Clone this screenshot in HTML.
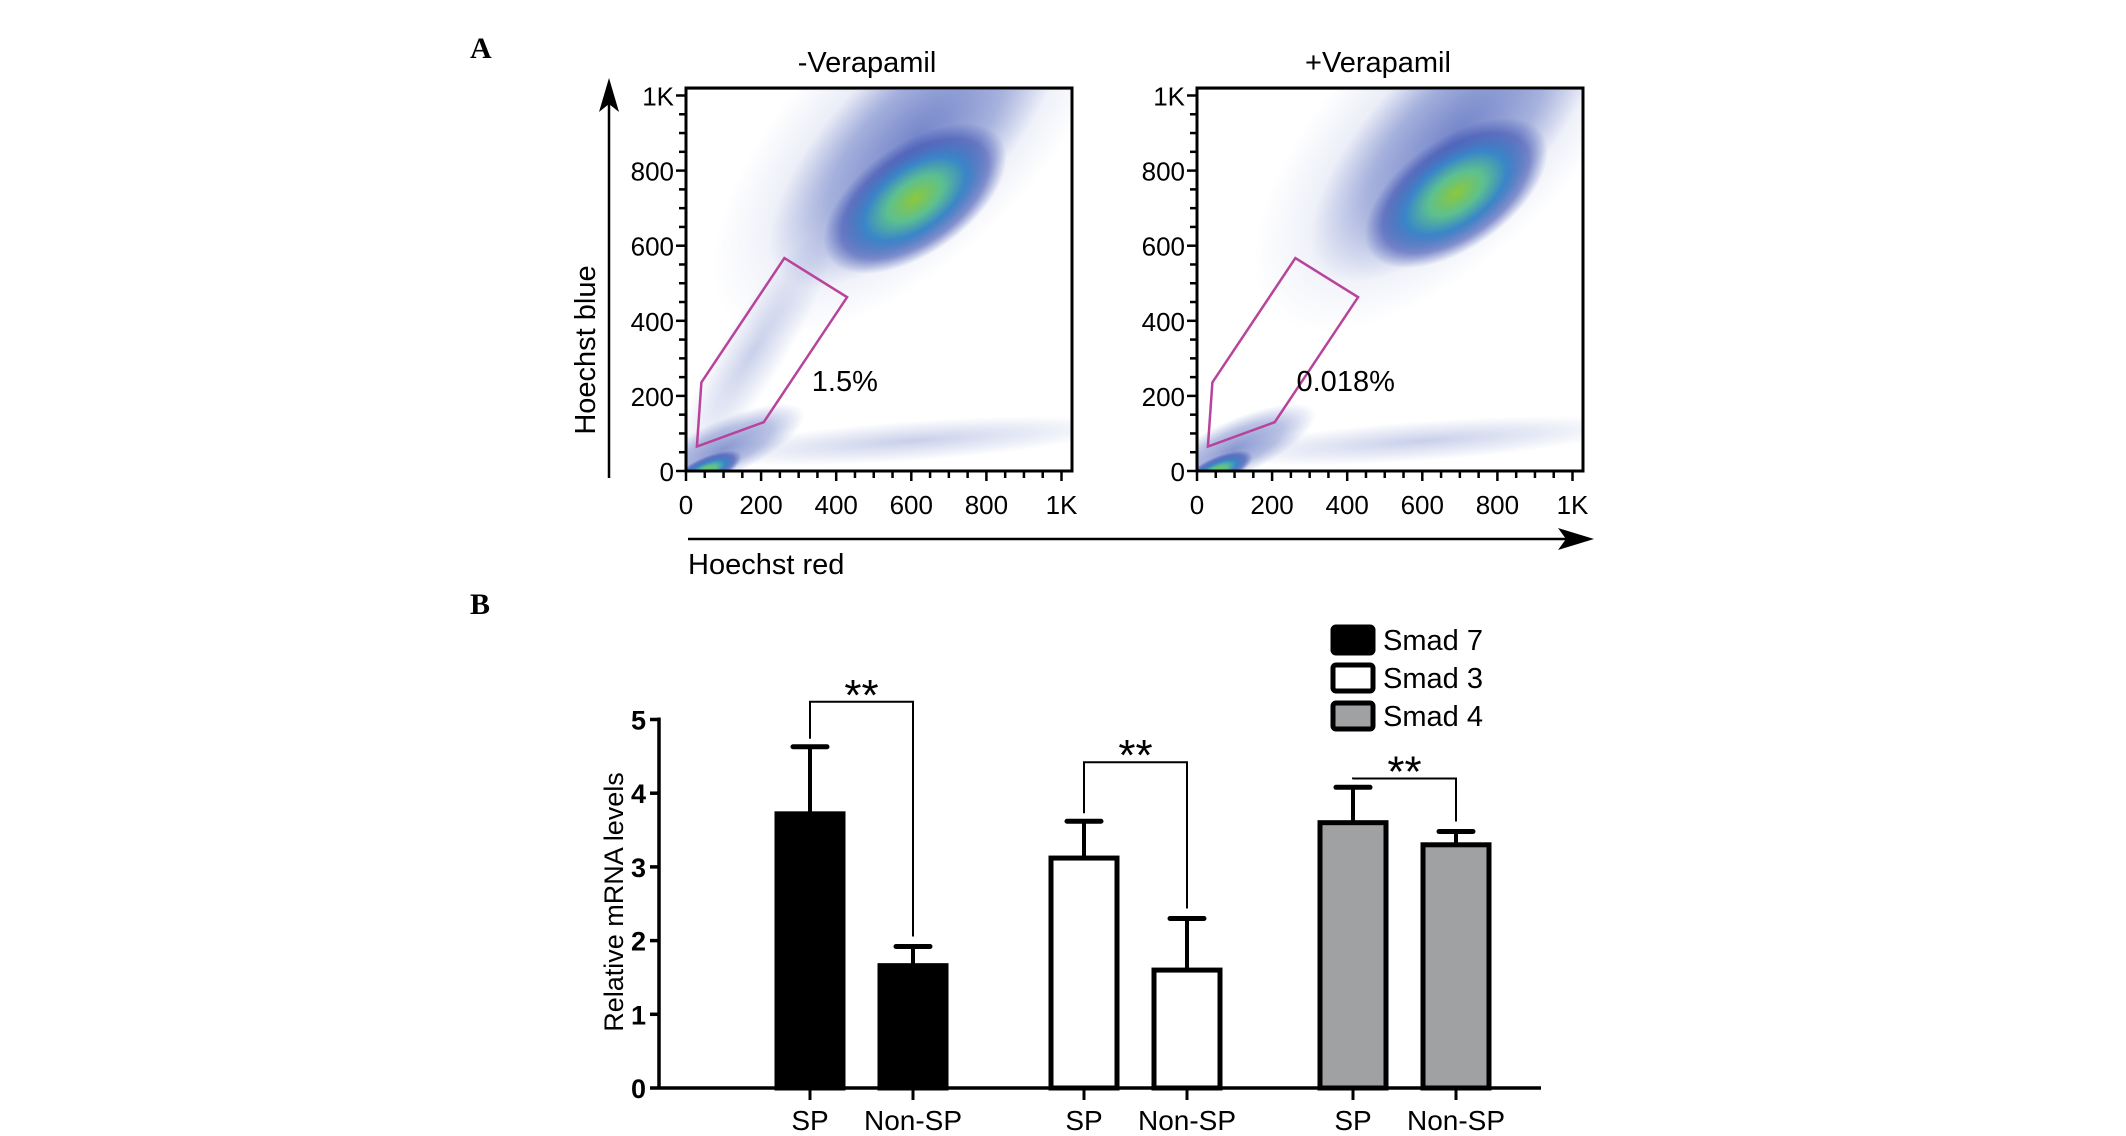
<!DOCTYPE html>
<html><head><meta charset="utf-8"><style>
html,body{margin:0;padding:0;background:#fff}
svg{display:block;font-family:"Liberation Sans",sans-serif}
</style></head><body>
<svg id="fig" width="2126" height="1136" viewBox="0 0 2126 1136">
<defs>
<radialGradient id="gCore" cx="50%" cy="50%" r="50%">
<stop offset="0" stop-color="#8cc83c"/><stop offset="0.3" stop-color="#5cc090"/><stop offset="0.55" stop-color="#3a86c8"/><stop offset="0.8" stop-color="#3a4fb0" stop-opacity="0.6"/><stop offset="1" stop-color="#3a4fb0" stop-opacity="0"/>
</radialGradient>
<radialGradient id="gHalo" cx="50%" cy="50%" r="50%">
<stop offset="0" stop-color="#3b54b4" stop-opacity="0.6"/><stop offset="0.6" stop-color="#3b54b4" stop-opacity="0.35"/><stop offset="1" stop-color="#3b54b4" stop-opacity="0"/>
</radialGradient>
<radialGradient id="gSparse" cx="50%" cy="50%" r="50%">
<stop offset="0" stop-color="#3b54b4" stop-opacity="0.28"/><stop offset="1" stop-color="#3b54b4" stop-opacity="0"/>
</radialGradient>
</defs>
<text x="470" y="58" font-family="Liberation Serif" font-weight="bold" font-size="30">A</text>
<text x="470" y="614" font-family="Liberation Serif" font-weight="bold" font-size="30">B</text>
<g id="flow"></g>
<g id="bars"></g>
</svg>
<script>
const NS='http://www.w3.org/2000/svg';
function mk(tag,attrs,parent,txt){const e=document.createElementNS(NS,tag);for(const k in attrs)e.setAttribute(k,attrs[k]);if(txt!==undefined)e.textContent=txt;parent.appendChild(e);return e;}

/* ---------- Panel A data ---------- */
const flowTitles=['-Verapamil','+Verapamil'];
const flowPercent=['1.5%','0.018%'];
const flowTicks=[0,200,400,600,800,1000];
const flowTickLabels=['0','200','400','600','800','1K'];
const gateX=[29,41,262,429,207];
const gateY=[65,236,567,463,130];
const clusterCenterX=[610,690];
const clusterCenterY=[725,740];
const lowClusterX=[90,90];
const lowClusterY=[40,40];

const plotX0=[686,1197], plotTop=88, plotBot=471, plotW=386, k=0.3755;
const flow=document.getElementById('flow');
function fx(i,v){return plotX0[i]+v*k;}
function fy(v){return plotBot-v*k;}

for(let i=0;i<2;i++){
  const g=mk('g',{},flow);
  
  
  const cp=mk('clipPath',{id:'clip'+i},g);
  mk('rect',{x:plotX0[i],y:plotTop,width:plotW,height:plotBot-plotTop},cp);
  const dens=mk('g',{'clip-path':'url(#clip'+i+')'},g);
  const cx=fx(i,clusterCenterX[i]), cy=fy(clusterCenterY[i]);
  mk('ellipse',{cx:cx+45,cy:cy-45,rx:260,ry:120,fill:'url(#gSparse)',transform:`rotate(-45 ${cx} ${cy})`},dens);
  mk('ellipse',{cx:cx+40,cy:cy-40,rx:190,ry:80,fill:'url(#gHalo)',transform:`rotate(-45 ${cx} ${cy})`},dens);
  const c=mk('ellipse',{cx:cx,cy:cy,rx:105,ry:55,fill:'url(#gCore)',transform:`rotate(-35 ${cx} ${cy})`},dens);
  
  
  const lx=fx(i,lowClusterX[i]), ly=fy(lowClusterY[i]);
  mk('ellipse',{cx:lx+5,cy:ly-5,rx:90,ry:28,fill:'url(#gHalo)',transform:`rotate(-25 ${lx} ${ly})`},dens);
  mk('ellipse',{cx:lx-20,cy:ly+8,rx:40,ry:14,fill:'url(#gCore)',transform:`rotate(-25 ${lx} ${ly})`},dens);
  mk('ellipse',{cx:fx(i,600),cy:fy(80),rx:210,ry:20,fill:'url(#gSparse)',transform:`rotate(-4 ${fx(i,600)} ${fy(80)})`},dens);
  if(i===0){mk('ellipse',{cx:fx(0,180),cy:fy(320),rx:140,ry:32,fill:'url(#gSparse)',transform:`rotate(-58 ${fx(0,180)} ${fy(320)})`},dens);}
  mk('line',{x1:plotX0[i],y1:plotTop+1,x2:plotX0[i]+plotW,y2:plotTop+1,stroke:'#c8d840','stroke-width':2},dens);
  const fr=mk('rect',{x:plotX0[i],y:plotTop,width:plotW,height:plotBot-plotTop,fill:'none',stroke:'#000','stroke-width':3},g);
  
  
  const pts=gateX.map((v,j)=>fx(i,v)+','+fy(gateY[j])).join(' ');
  const gate=mk('polygon',{points:pts,fill:'none',stroke:'#b8439a','stroke-width':2.5},g);
  
  
  const pt=mk('text',{x:i===0?fx(0,335):fx(1,265),y:fy(240)+10,'font-size':29},g,flowPercent[i]);
  
  
  const tt=mk('text',{x:plotX0[i]+plotW/2-12,y:72,'font-size':29,'text-anchor':'middle'},g,flowTitles[i]);
  
  
  for(let v=0;v<=1000;v+=50){
    const major=v%200===0||v===1000;
    mk('line',{x1:plotX0[i],y1:fy(v),x2:plotX0[i]-(major?10:7),y2:fy(v),stroke:'#000','stroke-width':2.5},g);
    mk('line',{x1:fx(i,v),y1:plotBot,x2:fx(i,v),y2:plotBot+(major?10:7),stroke:'#000','stroke-width':2.5},g);
  }
  flowTicks.forEach((v,j)=>{
    const a=mk('text',{x:plotX0[i]-12,y:fy(v)+10,'font-size':26,'text-anchor':'end'},g,flowTickLabels[j]);
    
    
    const b=mk('text',{x:fx(i,v),y:plotBot+43,'font-size':26,'text-anchor':'middle'},g,flowTickLabels[j]);
    
    
  });
}
const ya=mk('g',{},flow);


mk('line',{x1:609,y1:478,x2:609,y2:95,stroke:'#000','stroke-width':2.5},ya);
mk('polygon',{points:'609,78 599,112 609,104 619,112',fill:'#000'},ya);
const yt=mk('text',{x:0,y:0,'font-size':29,'text-anchor':'middle',transform:'translate(595,350) rotate(-90)'},flow,'Hoechst blue');


const xa=mk('g',{},flow);


mk('line',{x1:688,y1:539,x2:1575,y2:539,stroke:'#000','stroke-width':2.5},xa);
mk('polygon',{points:'1594,539 1558,528 1566,539 1558,550',fill:'#000'},xa);
const xt=mk('text',{x:688,y:574,'font-size':29},flow,'Hoechst red');



/* ---------- Panel B data ---------- */
const groups=['Smad 7','Smad 3','Smad 4'];
const categories=['SP','Non-SP'];
const spValues=[3.72,3.12,3.6];
const spErrTop=[4.63,3.62,4.08];
const nonSpValues=[1.66,1.6,3.3];
const nonSpErrTop=[1.92,2.3,3.48];
const bracketY=[5.24,4.42,4.2];
const yTicks=[0,1,2,3,4,5];
const fills=['#000','#fff','#a0a1a3'];

const bars=document.getElementById('bars');
const ax0=659, y0=1088, ppu=73.7;
function by(v){return y0-v*ppu;}
const groupX=[810,1084,1353];
const pairGap=103, bw=70;
const yg=mk('g',{},bars);


mk('line',{x1:ax0,y1:by(5)-2,x2:ax0,y2:y0,stroke:'#000','stroke-width':3.5},yg);
yTicks.forEach(v=>{
  mk('line',{x1:ax0-9,y1:by(v),x2:ax0,y2:by(v),stroke:'#000','stroke-width':3.5},yg);
  const t=mk('text',{x:ax0-13,y:by(v)+10,'font-size':27,'font-weight':'bold','text-anchor':'end'},yg,String(v));
  
  
});
mk('line',{x1:ax0,y1:y0,x2:1541,y2:y0,stroke:'#000','stroke-width':3.5},bars);
const ytl=mk('text',{x:0,y:0,'font-size':27,'text-anchor':'middle',transform:'translate(623,902) rotate(-90)'},bars,'Relative mRNA levels');



groups.forEach((gname,i)=>{
  const g=mk('g',{},bars);
  
  
  const vals=[spValues[i],nonSpValues[i]], errs=[spErrTop[i],nonSpErrTop[i]];
  vals.forEach((v,j)=>{
    const cx=groupX[i]+j*pairGap;
    mk('line',{x1:cx,y1:by(v),x2:cx,y2:by(errs[j]),stroke:'#000','stroke-width':4},g);
    mk('line',{x1:cx-17,y1:by(errs[j]),x2:cx+17,y2:by(errs[j]),stroke:'#000','stroke-width':5,'stroke-linecap':'round'},g);
    const r=mk('rect',{x:cx-bw/2+2,y:by(v),width:bw-4,height:y0-by(v),fill:fills[i],stroke:'#000','stroke-width':5},g);
    
    
    mk('line',{x1:cx,y1:y0,x2:cx,y2:y0+12,stroke:'#000','stroke-width':3},g);
    const lt=mk('text',{x:cx,y:y0+42,'font-size':28,'text-anchor':'middle'},g,categories[j]);
    
    
  });
  const xl=groupX[i], xr=groupX[i]+pairGap, yb=by(bracketY[i]);
  const br=mk('polyline',{points:`${xl},${by(spErrTop[i])-8} ${xl},${yb} ${xr},${yb} ${xr},${by(nonSpErrTop[i])-10}`,fill:'none',stroke:'#000','stroke-width':2},g);
  
  
  const st=mk('text',{x:(xl+xr)/2,y:yb+8,'font-size':44,'text-anchor':'middle'},g,'**');
  
  
});
const leg=mk('g',{},bars);


groups.forEach((gname,i)=>{
  const e=mk('g',{},leg);
  
  
  const cy=640+i*38;
  mk('rect',{x:1333,y:cy-13,width:40,height:26,rx:3,fill:fills[i],stroke:'#000','stroke-width':5},e);
  mk('text',{x:1383,y:cy+10,'font-size':29},e,gname);
});
</script>
</body></html>
